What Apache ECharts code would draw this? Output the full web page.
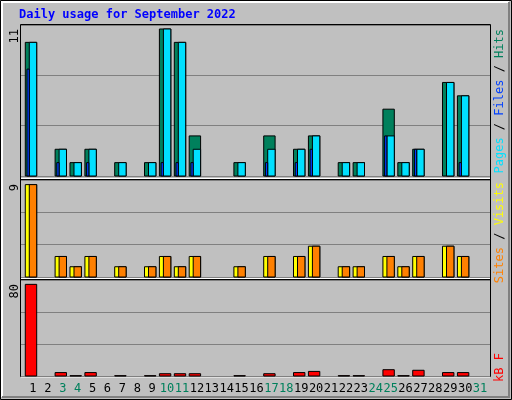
<!DOCTYPE html>
<html><head><meta charset="utf-8">
<script src="https://cdn.jsdelivr.net/npm/echarts@6/dist/echarts.min.js"></script>
<style>html,body{margin:0;padding:0;background:#c0c0c0}#c{width:512px;height:400px}</style>
</head><body><div id="c"></div>
<script>
const days = [1,2,3,4,5,6,7,8,9,10,11,12,13,14,15,16,17,18,19,20,21,22,23,24,25,26,27,28,29,30,31];
const weekend = [3,4,10,11,17,18,24,25,31];
const hits  = [10,0,2,1,2,0,1,0,1,11,10,3,0,0,1,0,3,0,2,3,0,1,1,0,5,1,2,0,7,6,0];
const files = [10,0,2,1,2,0,1,0,1,11,10,2,0,0,1,0,2,0,2,3,0,1,1,0,3,1,2,0,7,6,0];
const pages = [8,0,1,0,1,0,0,0,0,1,1,1,0,0,0,0,1,0,1,2,0,0,0,0,3,0,2,0,0,1,0];
const visits= [9,0,2,1,2,0,1,0,1,2,1,2,0,0,1,0,2,0,2,3,0,1,1,0,2,1,2,0,3,2,0];
const sites = [9,0,2,1,2,0,1,0,1,2,1,2,0,0,1,0,2,0,2,3,0,1,1,0,2,1,2,0,3,2,0];
const kbytes= [80,0,3,0.3,3,0,0.3,0,0.3,2,2,2,0,0,0.3,0,2,0,3,4,0,0.3,0.3,0,5.5,0.3,5,0,3,3,0];
const maxLabels = ['11','9','80'];

const chart = echarts.init(document.getElementById('c'));
const panels = [{top:25,h:151,max:11.3},{top:180,h:97,max:9.45},{top:280,h:96,max:83.8}];
function rect(x1,x2,y1,y2,fill){
  return {type:'rect',shape:{x:x1,y:Math.min(y1,y2),width:x2-x1,height:Math.abs(y2-y1)},
    style:{fill:fill,stroke:'#000',lineWidth:1}};
}
function mk(layers){
  return function(params, api){
    const i = params.dataIndex;
    const d = api.value(0);
    const c = api.coord([d,0]);
    const kids = [];
    layers.forEach(L=>{
      const v = api.value(L.dim);
      if (v<=0) return;
      const t = api.coord([d,v]);
      kids.push(rect(c[0]+L.a, c[0]+L.b, c[1], t[1], L.color));
    });
    return {type:'group',children:kids};
  };
}
const grids = panels.map(p=>({left:21,right:22,top:p.top,height:p.h,show:false}));
grids.push({left:25.5,width:462,top:280,height:96,show:false});
const xAxis = panels.map((p,k)=>({type:'value',gridIndex:k,min:0.195,max:31.67,show:false}));
xAxis.push({type:'category',gridIndex:3,data:days.map(String),axisLine:{show:false},axisTick:{show:false},
  axisLabel:{margin:7,fontFamily:'DejaVu Sans Mono',fontSize:12,interval:0,
   color:(v)=>weekend.includes(+v)?'#00805c':'#000'}});
const yAxis = panels.map((p,k)=>({type:'value',gridIndex:k,min:0,max:p.max,interval:p.max/3,
  axisLabel:{show:false},axisLine:{show:false},axisTick:{show:false},
  splitLine:{show:true,lineStyle:{color:'#808080',width:1}}}));
yAxis.push({type:'value',gridIndex:3,show:false});
const series = [
 {type:'custom',xAxisIndex:0,yAxisIndex:0,data:days.map((d,i)=>[d,hits[i],files[i],pages[i]]),
  renderItem:mk([{dim:1,a:-7.7,b:3.7,color:'#00805c'},{dim:2,a:-3.7,b:3.7,color:'#00e0ff'},{dim:3,a:-6,b:-3.7,color:'#0040ff'}])},
 {type:'custom',xAxisIndex:1,yAxisIndex:1,data:days.map((d,i)=>[d,visits[i],sites[i]]),
  renderItem:mk([{dim:1,a:-7.7,b:3.7,color:'#ffff00'},{dim:2,a:-3.7,b:3.7,color:'#ff8000'}])},
 {type:'custom',xAxisIndex:2,yAxisIndex:2,data:days.map((d,i)=>[d,kbytes[i]]),
  renderItem:mk([{dim:1,a:-7.7,b:3.7,color:'#ff0000'}])},
 {type:'bar',xAxisIndex:3,yAxisIndex:3,data:[]}
];
const mono = 'DejaVu Sans Mono';
const graphic = [
 {type:'rect',z:-10,shape:{x:0.5,y:0.5,width:511,height:399},style:{fill:'#c0c0c0',stroke:'#000',lineWidth:1}},
 {type:'polyline',z:-9,shape:{points:[[2,397],[2,2],[509,2]]},style:{stroke:'#fff',lineWidth:2,fill:null}},
 {type:'polyline',z:-9,shape:{points:[[509,2],[509,397],[2,397]]},style:{stroke:'#808080',lineWidth:2,fill:null}},
 {type:'rect',z:-8,shape:{x:20.5,y:24.5,width:470,height:352},style:{fill:'#c0c0c0',stroke:'#000',lineWidth:1}},
 {type:'line',z:-7,shape:{x1:21,y1:178.5,x2:490,y2:178.5},style:{stroke:'#fff',lineWidth:1}},
 {type:'line',z:-7,shape:{x1:21,y1:179.5,x2:490,y2:179.5},style:{stroke:'#000',lineWidth:1}},
 {type:'line',z:-7,shape:{x1:21,y1:278.5,x2:490,y2:278.5},style:{stroke:'#fff',lineWidth:1}},
 {type:'line',z:-7,shape:{x1:21,y1:279.5,x2:490,y2:279.5},style:{stroke:'#000',lineWidth:1}},
 {type:'line',z:-7,shape:{x1:21,y1:377,x2:490,y2:377},style:{stroke:'#fff',lineWidth:1}},
 {type:'text',x:19,y:9,style:{text:'Daily usage for September 2022',fill:'#0000ff',font:'bold 12px "DejaVu Sans Mono"'}},
];
[[29,maxLabels[0]],[184,maxLabels[1]],[284,maxLabels[2]]].forEach(([y,t])=>{
  graphic.push({type:'text',x:9,y:y,rotation:Math.PI/2,style:{text:t,fill:'#000',font:'12px "DejaVu Sans Mono"',align:'right',verticalAlign:'top'}});
});
function legend(y,parts){
  graphic.push({type:'text',x:494,y:y,rotation:Math.PI/2,style:{
    text:parts.map((p,i)=>'{s'+i+'|'+p[0]+'}').join(''),
    rich:Object.fromEntries(parts.map((p,i)=>['s'+i,{fill:p[1],font:'12px "DejaVu Sans Mono"'}])),
    align:'right',verticalAlign:'top'}});
}
legend(29,[['Pages','#00e0ff'],[' / ','#000'],['Files','#0040ff'],[' / ','#000'],['Hits','#00805c']]);
legend(182,[['Sites','#ff8000'],[' / ','#000'],['Visits','#ffff00']]);
legend(173+180,[['kB F','#ff0000']]);
chart.setOption({animation:false,backgroundColor:'#c0c0c0',grid:grids,xAxis,yAxis,series,graphic});
</script></body></html>
